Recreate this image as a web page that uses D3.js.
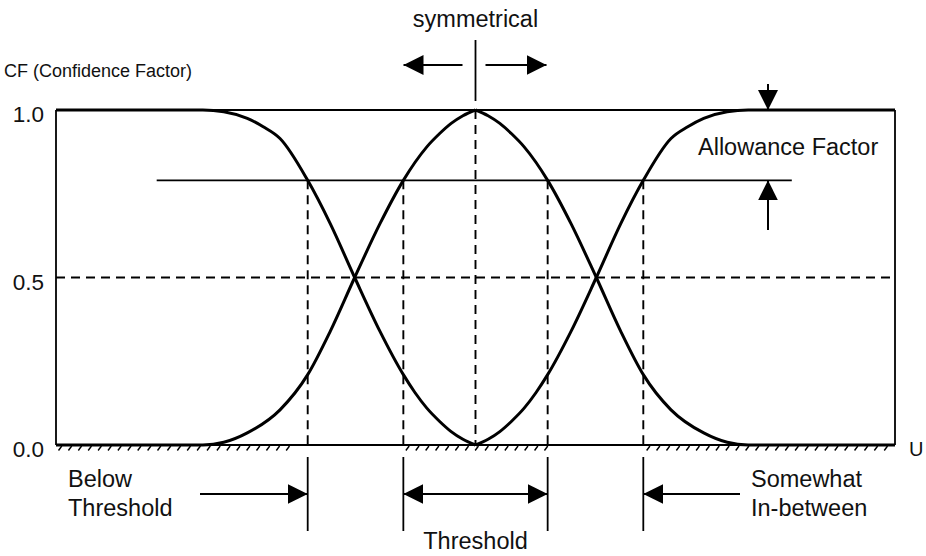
<!DOCTYPE html>
<html>
<head>
<meta charset="utf-8">
<script src="https://cdn.jsdelivr.net/npm/d3@7"></script>
<style>
  body { margin: 0; background: #fff; }
  svg { display: block; }
  text { font-family: "Liberation Sans", Arial, sans-serif; fill: #111; }
</style>
</head>
<body>
<div id="chart"></div>
<script>
// membership curves (U from 0 to 10, CF from 0 to 1)
const leftRiseU  = [0, 1.2, 1.75, 2.0, 2.28, 2.67, 3.0, 3.27, 3.56, 3.86, 4.14, 4.28, 4.42, 4.57, 4.71, 4.85, 5.0];
const leftRiseCF = [0, 0, 0, 0.008, 0.036, 0.105, 0.21, 0.34, 0.5, 0.66, 0.79, 0.844, 0.89, 0.929, 0.96, 0.983, 1.0];

const leftFallU  = [0, 1.2, 1.75, 2.0, 2.28, 2.47, 2.67, 3.0, 3.27, 3.56, 3.86, 4.14, 4.28, 4.42, 4.57, 4.71, 4.85, 5.0];
const leftFallCF = [1, 1, 1, 0.995, 0.975, 0.95, 0.915, 0.79, 0.66, 0.5, 0.34, 0.21, 0.156, 0.11, 0.071, 0.04, 0.017, 0];

const rightFallU  = [5.0, 5.15, 5.29, 5.43, 5.58, 5.72, 5.86, 6.14, 6.44, 6.73, 7.0, 7.33, 7.72, 8.0, 8.25, 8.8, 10];
const rightFallCF = [1.0, 0.983, 0.96, 0.929, 0.89, 0.844, 0.79, 0.66, 0.5, 0.34, 0.21, 0.105, 0.036, 0.008, 0, 0, 0];

const rightRiseU  = [5.0, 5.15, 5.29, 5.43, 5.58, 5.72, 5.86, 6.14, 6.44, 6.73, 7.0, 7.33, 7.53, 7.72, 8.0, 8.25, 8.8, 10];
const rightRiseCF = [0, 0.017, 0.04, 0.071, 0.11, 0.156, 0.21, 0.34, 0.5, 0.66, 0.79, 0.915, 0.95, 0.975, 0.995, 1, 1, 1];

// marks and labels
const yTickValues = [0, 0.5, 1.0];
const centerU = 5.0;
const thresholdU = [3.0, 4.14, 5.86, 7.0];
const allowanceCF = 0.79;
const allowanceSpan = [1.2, 8.77];
const hatchSpans = [[0.03, 2.86], [4.17, 5.84], [7.04, 9.92]];


function drawChart() {

    const width = 926,
        height = 556,
        leftMargin = 56,
        rightEdge = 895,
        topY = 110,
        bottomY = 445,
        labelSize = 23.5;

    const scaleX = d3.scaleLinear().domain([0, 10]).range([leftMargin, rightEdge]);
    const scaleY = d3.scaleLinear().domain([0, 1]).range([bottomY, topY]);

    const svg = d3.select('#chart')
        .append('svg')
        .attr('width', width)
        .attr('height', height);

    // arrow head
    svg.append('defs').append('marker')
        .attr('id', 'head')
        .attr('viewBox', '0 -10 20 20')
        .attr('refX', 20)
        .attr('refY', 0)
        .attr('markerWidth', 20)
        .attr('markerHeight', 20)
        .attr('markerUnits', 'userSpaceOnUse')
        .attr('orient', 'auto-start-reverse')
        .append('path')
        .attr('d', 'M0,-10L20,0L0,10Z')
        .attr('fill', '#000');

    const chart = svg.append('g');

    // hatching under the axis
    hatchSpans.forEach(span => {
        const x0 = scaleX(span[0]), x1 = scaleX(span[1]);
        chart.selectAll(null)
            .data(d3.range(x0, x1, 9.9))
            .enter()
            .append('line')
            .attr('x1', d => d)
            .attr('y1', bottomY + 5.5)
            .attr('x2', d => d + 3.3)
            .attr('y2', bottomY + 1)
            .attr('stroke', '#000')
            .attr('stroke-width', 1.4);
    });

    // frame
    const frame = [
        [0, 1, 10, 1],
        [0, 0, 10, 0],
        [0, 1, 0, 0],
        [10, 1, 10, 0]
    ];
    chart.selectAll('.frame')
        .data(frame)
        .enter()
        .append('line')
        .attr('x1', d => scaleX(d[0])).attr('y1', d => scaleY(d[1]))
        .attr('x2', d => scaleX(d[2])).attr('y2', d => scaleY(d[3]))
        .attr('stroke', '#000').attr('stroke-width', 1.8);

    // 0.5 dashed line
    chart.append('line')
        .attr('x1', scaleX(0)).attr('x2', scaleX(10))
        .attr('y1', scaleY(0.5)).attr('y2', scaleY(0.5))
        .attr('stroke', '#000').attr('stroke-width', 1.9)
        .attr('stroke-dasharray', '9,6');

    // allowance line
    chart.append('line')
        .attr('x1', scaleX(allowanceSpan[0])).attr('x2', scaleX(allowanceSpan[1]))
        .attr('y1', scaleY(allowanceCF)).attr('y2', scaleY(allowanceCF))
        .attr('stroke', '#000').attr('stroke-width', 1.8);

    // dashed verticals
    chart.selectAll('.thr')
        .data(thresholdU)
        .enter()
        .append('line')
        .attr('x1', d => scaleX(d)).attr('x2', d => scaleX(d))
        .attr('y1', scaleY(allowanceCF)).attr('y2', scaleY(0))
        .attr('stroke', '#000').attr('stroke-width', 1.9)
        .attr('stroke-dasharray', '9,6');
    chart.append('line')
        .attr('x1', scaleX(centerU)).attr('x2', scaleX(centerU))
        .attr('y1', scaleY(1)).attr('y2', scaleY(0))
        .attr('stroke', '#000').attr('stroke-width', 1.9)
        .attr('stroke-dasharray', '9,6');

    // curves
    const line = d3.line()
        .x(d => scaleX(d[0]))
        .y(d => scaleY(d[1]))
        .curve(d3.curveMonotoneX);

    const curves = [
        d3.zip(leftRiseU, leftRiseCF),
        d3.zip(leftFallU, leftFallCF),
        d3.zip(rightFallU, rightFallCF),
        d3.zip(rightRiseU, rightRiseCF)
    ];
    chart.selectAll('.curve')
        .data(curves)
        .enter()
        .append('path')
        .attr('d', line)
        .attr('fill', 'none')
        .attr('stroke', '#000')
        .attr('stroke-width', 3);

    // y axis labels
    const yTicks = d3.axisLeft(scaleY)
        .tickValues(yTickValues)
        .tickFormat(d3.format('.1f'))
        .tickSize(0)
        .tickPadding(12);
    const yAxis = svg.append('g')
        .attr('transform', `translate(${leftMargin},0)`)
        .call(yTicks);
    yAxis.select('.domain').remove();
    yAxis.selectAll('text')
        .attr('font-size', 22.5)
        .attr('font-family', '"Liberation Sans", Arial, sans-serif')
        .attr('fill', '#111')
        .attr('dy', '0.52em');

    // texts
    svg.append('text').attr('x', 4).attr('y', 77)
        .attr('font-size', 18).text('CF (Confidence Factor)');
    svg.append('text').attr('x', scaleX(centerU)).attr('y', 27)
        .attr('text-anchor', 'middle').attr('font-size', labelSize).text('symmetrical');
    svg.append('text').attr('x', 698).attr('y', 155)
        .attr('font-size', labelSize).text('Allowance Factor');
    svg.append('text').attr('x', 909).attr('y', 456)
        .attr('font-size', 20).text('U');
    svg.append('text').attr('x', 68).attr('y', 487)
        .attr('font-size', labelSize).text('Below');
    svg.append('text').attr('x', 68).attr('y', 516)
        .attr('font-size', labelSize).text('Threshold');
    svg.append('text').attr('x', 751).attr('y', 487)
        .attr('font-size', labelSize).text('Somewhat');
    svg.append('text').attr('x', 751).attr('y', 516)
        .attr('font-size', labelSize).text('In-between');
    svg.append('text').attr('x', scaleX(centerU)).attr('y', 549)
        .attr('text-anchor', 'middle').attr('font-size', labelSize).text('Threshold');

    // symmetry marker
    const cx = scaleX(centerU);
    svg.append('line')
        .attr('x1', cx).attr('x2', cx).attr('y1', 40).attr('y2', 101)
        .attr('stroke', '#000').attr('stroke-width', 1.8);
    svg.append('line')
        .attr('x1', cx - 13).attr('x2', cx - 72).attr('y1', 65).attr('y2', 65)
        .attr('stroke', '#000').attr('stroke-width', 2)
        .attr('marker-end', 'url(#head)');
    svg.append('line')
        .attr('x1', cx + 10).attr('x2', cx + 71).attr('y1', 65).attr('y2', 65)
        .attr('stroke', '#000').attr('stroke-width', 2)
        .attr('marker-end', 'url(#head)');

    // allowance arrows
    svg.append('line')
        .attr('x1', 768).attr('x2', 768).attr('y1', 84).attr('y2', scaleY(1))
        .attr('stroke', '#000').attr('stroke-width', 2)
        .attr('marker-end', 'url(#head)');
    svg.append('line')
        .attr('x1', 768).attr('x2', 768).attr('y1', 230).attr('y2', scaleY(allowanceCF))
        .attr('stroke', '#000').attr('stroke-width', 2)
        .attr('marker-end', 'url(#head)');

    // region brackets under the axis
    svg.selectAll('.bracket')
        .data(thresholdU)
        .enter()
        .append('line')
        .attr('x1', d => scaleX(d)).attr('x2', d => scaleX(d))
        .attr('y1', 457).attr('y2', 531)
        .attr('stroke', '#000').attr('stroke-width', 1.8);

    svg.append('line')
        .attr('x1', 200).attr('x2', scaleX(thresholdU[0])).attr('y1', 494).attr('y2', 494)
        .attr('stroke', '#000').attr('stroke-width', 2)
        .attr('marker-end', 'url(#head)');
    svg.append('line')
        .attr('x1', scaleX(thresholdU[1])).attr('x2', scaleX(thresholdU[2])).attr('y1', 494).attr('y2', 494)
        .attr('stroke', '#000').attr('stroke-width', 2)
        .attr('marker-start', 'url(#head)')
        .attr('marker-end', 'url(#head)');
    svg.append('line')
        .attr('x1', 740).attr('x2', scaleX(thresholdU[3])).attr('y1', 494).attr('y2', 494)
        .attr('stroke', '#000').attr('stroke-width', 2)
        .attr('marker-end', 'url(#head)');
}

window.onload = function() {
    drawChart();
};
</script>
</body>
</html>
